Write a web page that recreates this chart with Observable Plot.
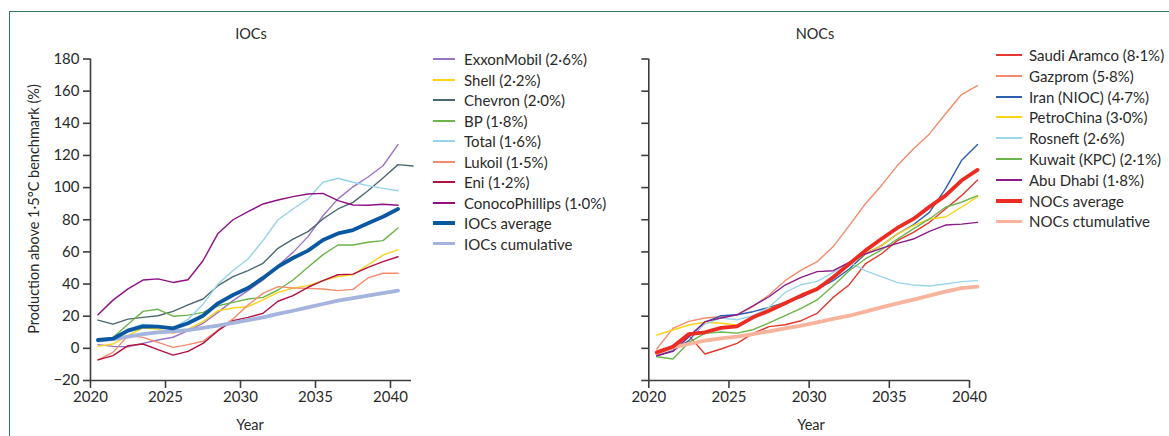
<!DOCTYPE html>
<html><head><meta charset="utf-8">
<script src="https://cdn.jsdelivr.net/npm/d3@7"></script>
<script src="https://cdn.jsdelivr.net/npm/@observablehq/plot@0.6"></script>
<style>
body{margin:0;background:#fff;font-family:Lato,"Open Sans",sans-serif;color:#2a2a2a;}
#wrap{position:relative;width:1169px;height:436px;overflow:hidden;background:#fff;}
.frame{position:absolute;left:9px;top:11px;width:1300px;height:600px;border-left:1.5px solid #2e7a58;border-top:1.5px solid #2e7a58;}
.abs{position:absolute;white-space:nowrap;font-size:14.5px;color:#2a2a2a;}
.plot{position:absolute;top:0;}
.lrow{position:absolute;height:20px;line-height:20px;font-size:15px;white-space:nowrap;color:#2a2a2a;}
.sw{position:absolute;top:50%;}
.lt{position:absolute;}
</style>
</head><body>
<div id="wrap">
  <div class="frame"></div>
</div>
<script>
// ---------- data ----------
const years = [2020.5,2021.5,2022.5,2023.5,2024.5,2025.5,2026.5,2027.5,2028.5,2029.5,2030.5,2031.5,2032.5,2033.5,2034.5,2035.5,2036.5,2037.5,2038.5,2039.5,2040.5,2041.5];
const xTicksLeft = [2020,2025,2030,2035,2040];
const xTicksRight = [2020,2025,2030,2035,2040];
const yTicks = [-20,0,20,40,60,80,100,120,140,160,180];

const iocNames = ["ExxonMobil","Shell","Chevron","BP","Total","Lukoil","Eni","ConocoPhillips"];
const iocLabels = ["ExxonMobil (2·6%)","Shell (2·2%)","Chevron (2·0%)","BP (1·8%)","Total (1·6%)","Lukoil (1·5%)","Eni (1·2%)","ConocoPhillips (1·0%)","IOCs average","IOCs cumulative"];
const iocColors = ["#9b73c6","#fbd31a","#4b6870","#6cb44b","#95d3ea","#f58b6c","#b3113f","#8e1083","#0b58a2","#a5b4de"];

const exxonMobil = [2.3,1.2,1.0,3.1,5.2,6.9,11,15.6,22.4,29.7,35.9,42.5,51.4,59.7,69.5,82.5,93,100.5,106.6,113.6,126.7];
const shell      = [1.2,2.7,7.9,12.7,12,9.3,12,16.6,23.4,25.1,25.9,30.1,34.8,37.5,39,42.1,44.6,45.8,52,58,61.4];
const chevron    = [17.6,15.1,18.2,19.3,20.3,23,27,30.7,39,44.6,48.4,52.9,62.2,68,72.6,80.5,86.7,90.8,98,106,114.3,113.4];
const bp         = [4.8,6.8,15,23,24.3,20,20.7,22.4,26.5,28.6,30.7,31.7,36.3,42.5,50.4,58.3,64.3,64.3,66,67,74.9];
const total      = [5.8,6.2,12,15,14,12.7,18,27.5,40,48.4,55.6,67,80,86.7,93,103.3,105.8,103.3,101.2,99.5,98];
const lukoil     = [-7.2,-2.5,7.9,6.8,3.7,0.6,2.3,4.4,11.4,18.3,27,34.2,38.4,37.5,37.3,36.9,35.9,36.7,43.8,46.7,46.7];
const eni        = [-7.2,-4.5,1.7,2.7,-0.8,-4.2,-1.9,3.1,11,17.2,19.3,21.8,29.3,32.8,38,42.1,45.8,46.2,50.4,53.9,57];
const conoco     = [20.9,30,37,42.5,43.2,41,42.7,54.5,71.5,80,85,89.8,92.3,94.4,96,96.4,91.9,89.2,89,89.6,89];
const iocAverage = [5.2,6,11,13.7,13.5,12.4,15.6,20.3,28,33.2,37.5,43.8,50.8,56.2,60.8,67.4,71.5,73.6,77.8,81.9,86.7];
const iocCumulative = [4.8,5.8,7.3,8.9,10,10.6,11.4,12.7,14.1,15.8,17.6,19.3,21.4,23.4,25.5,27.6,29.7,31.3,32.8,34.4,35.9];

const nocNames = ["Saudi Aramco","Gazprom","Iran (NIOC)","PetroChina","Rosneft","Kuwait (KPC)","Abu Dhabi"];
const nocLabels = ["Saudi Aramco (8·1%)","Gazprom (5·8%)","Iran (NIOC) (4·7%)","PetroChina (3·0%)","Rosneft (2·6%)","Kuwait (KPC) (2·1%)","Abu Dhabi (1·8%)","NOCs average","NOCs ctumulative"];
const nocColors = ["#e5392f","#f58b6c","#2b5fb0","#fbd31a","#9dd5eb","#6cb44b","#8c1b8a","#ec2b23","#f8b39d"];

const saudiAramco = [-3.9,0.6,7.9,-3.5,-0.4,3.1,9.3,13.5,14.7,17.2,21.8,31.7,39.6,52.5,58.7,67,72.2,78.4,86.7,95,104.8];
const gazprom     = [-0.4,12.4,16.8,18.9,19.7,20.7,25.9,33.2,42.1,48.7,53.9,63.3,76.3,89.8,101.2,113.7,124,133.4,145.8,157.9,163.5];
const iran        = [-4.6,-1.4,4.8,16.2,20.3,20.9,22.8,25.5,28.6,31.7,36.9,42.1,49.4,58.7,63.9,71.1,76.9,84.6,99.2,116.8,126.8];
const petroChina  = [8.3,11.4,14.5,16.2,15.6,14.5,19.3,24.5,28.6,32.8,38,44.2,52.5,58.7,63.9,71.1,76.3,80.5,81.7,87.8,94.4];
const rosneft     = [-3.5,0.6,6.8,15.1,18.9,17.8,20.3,25.5,34.8,39.6,41.7,47.3,53.5,48.3,44.6,40.9,39.4,38.8,40,41.5,42.1];
const kuwait      = [-5.2,-6.6,3.7,9.3,10.2,9.5,11.6,15.8,20.3,24.9,30.1,39,48.3,55.6,61.2,68,74.3,80.5,87.8,90.9,95];
const abuDhabi    = [-4.6,-1.9,7.3,16.6,18.9,20.9,26.5,32.1,39.4,44.2,47.7,48.3,53.5,58.7,62.2,65.3,68,72.8,76.7,77.3,78.4];
const nocAverage  = [-2.5,1,8.9,10,12.7,13.7,19.3,23.4,28,32.8,36.9,44.2,52.5,60.8,68,74.9,80.5,88,95,104.4,111];
const nocCumulative = [-2.9,0.6,2.7,4.8,6.2,7.3,8.9,10.6,12.4,14.1,16.2,18.3,20.3,22.8,25.5,28,30.3,32.8,35.3,37.5,38.4];

// ---------- build tables ----------
function rows(name, vals){ return vals.map((v,i)=>({name, year: years[i], value: v})); }
const iocThin = [exxonMobil,shell,chevron,bp,total,lukoil,eni,conoco].flatMap((v,i)=>rows(iocNames[i], v));
const iocAvgRows = rows("IOCs average", iocAverage);
const iocCumRows = rows("IOCs cumulative", iocCumulative);
const nocThin = [saudiAramco,gazprom,iran,petroChina,rosneft,kuwait,abuDhabi].flatMap((v,i)=>rows(nocNames[i], v));
const nocAvgRows = rows("NOCs average", nocAverage);
const nocCumRows = rows("NOCs cumulative", nocCumulative);

const axisColor = "#3d3d3d";
const common = {
  height: 436, marginTop: 58.5, marginBottom: 56,
  y: {domain: [-20, 180]},
  style: {fontFamily: "Lato, 'Open Sans', sans-serif", fontSize: "15px", color: "#2a2a2a", background: "transparent", overflow: "visible"}
};

const left = Plot.plot({
  ...common,
  width: 420, marginLeft: 90, marginRight: 9,
  x: {domain: [2020, 2041.4]},
  color: {domain: [...iocNames, "IOCs average", "IOCs cumulative"], range: iocColors},
  marks: [
    Plot.ruleX([2020], {stroke: axisColor, strokeWidth: 1.6}),
    Plot.ruleY([-20], {stroke: axisColor, strokeWidth: 1.6}),
    Plot.axisY({ticks: yTicks, tickSize: 7, tickPadding: 4, stroke: axisColor, strokeWidth: 1.6, label: null, fill: "#2a2a2a"}),
    Plot.axisX({ticks: xTicksLeft, tickSize: 8, tickPadding: 3, tickFormat: d => String(d), stroke: axisColor, strokeWidth: 1.6, label: null, fill: "#2a2a2a"}),
    Plot.line(iocThin, {x: "year", y: "value", z: "name", stroke: "name", strokeWidth: 1.4}),
    Plot.line(iocCumRows, {x: "year", y: "value", stroke: "name", strokeWidth: 3.8}),
    Plot.line(iocAvgRows, {x: "year", y: "value", stroke: "name", strokeWidth: 3.8})
  ]
});

const right = Plot.plot({
  ...common,
  width: 380, marginLeft: 48.3, marginRight: 11,
  x: {domain: [2020, 2040]},
  color: {domain: [...nocNames, "NOCs average", "NOCs cumulative"], range: nocColors},
  marks: [
    Plot.ruleX([2020], {stroke: axisColor, strokeWidth: 1.6}),
    Plot.ruleY([-20], {stroke: axisColor, strokeWidth: 1.6}),
    Plot.axisY({ticks: yTicks, tickSize: 7, tickFormat: () => "", stroke: axisColor, strokeWidth: 1.6, label: null}),
    Plot.axisX({ticks: xTicksRight, tickSize: 8, tickPadding: 3, tickFormat: d => String(d), stroke: axisColor, strokeWidth: 1.6, label: null, fill: "#2a2a2a"}),
    Plot.line(nocThin, {x: "year", y: "value", z: "name", stroke: "name", strokeWidth: 1.4}),
    Plot.line(nocCumRows, {x: "year", y: "value", stroke: "name", strokeWidth: 3.8}),
    Plot.line(nocAvgRows, {x: "year", y: "value", stroke: "name", strokeWidth: 3.8})
  ]
});

const wrap = document.getElementById("wrap");
left.classList.add("plot"); left.style.left = "0px"; left.style.position = "absolute";
right.classList.add("plot"); right.style.left = "600px"; right.style.position = "absolute";
wrap.appendChild(left); wrap.appendChild(right);

function addText(txt, x, y, extra) {
  const d = document.createElement("div");
  d.className = "abs"; d.textContent = txt;
  d.style.left = x + "px"; d.style.top = y + "px";
  d.style.transform = extra || "translate(-50%,-50%)";
  wrap.appendChild(d);
}
addText("IOCs", 251, 33);
addText("NOCs", 815, 33);
addText("Year", 250, 424);
addText("Year", 811, 424);
addText("Production above 1·5°C benchmark (%)", 33, 209, "translate(-50%,-50%) rotate(-90deg)");

function legend(labels, colors, x0, y0, dy, swW, textX, thickFrom) {
  labels.forEach((lab, i) => {
    const r = document.createElement("div");
    r.className = "lrow";
    r.style.left = x0 + "px";
    r.style.top = (y0 + i * dy - 10) + "px";
    const s = document.createElement("span");
    s.className = "sw";
    const th = i >= thickFrom ? 3.8 : 2;
    s.style.left = "0px"; s.style.width = swW + "px"; s.style.height = th + "px";
    s.style.marginTop = (-th / 2) + "px";
    s.style.background = colors[i];
    const t = document.createElement("span");
    t.className = "lt"; t.style.left = (textX - x0) + "px"; t.textContent = lab;
    r.appendChild(s); r.appendChild(t);
    wrap.appendChild(r);
  });
}
legend(iocLabels, iocColors, 433, 59, 20.5, 22, 464, 8);
legend(nocLabels, nocColors, 996, 55, 20.8, 26, 1029, 7);
</script>
</body></html>
